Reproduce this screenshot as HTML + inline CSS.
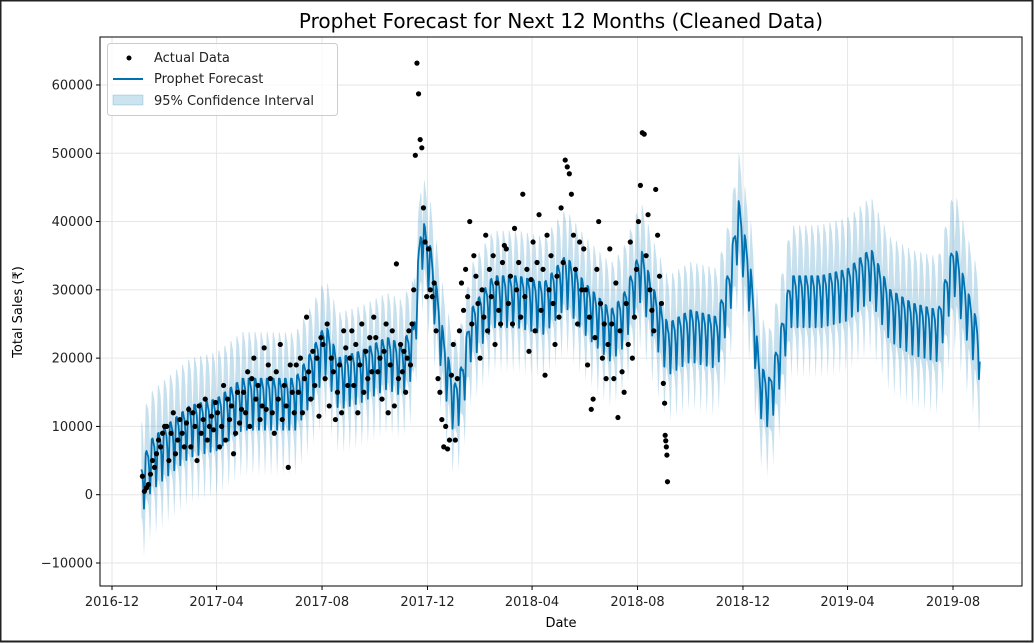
<!DOCTYPE html>
<html><head><meta charset="utf-8">
<style>
html,body{margin:0;padding:0;background:#fff;}
body{width:1034px;height:643px;overflow:hidden;}
svg{display:block;font-family:"DejaVu Sans","Liberation Sans",sans-serif;}
</style></head>
<body>
<svg id="chart" width="1034" height="643" viewBox="0 0 1034 643">
<rect x="0" y="0" width="1034" height="643" fill="#fff"/>
<g id="grid"></g>
<g id="band"></g>
<g id="line"></g>
<g id="pts"></g>
<g id="axes"></g>
<text x="561" y="28" font-size="20" text-anchor="middle" fill="#000">Prophet Forecast for Next 12 Months (Cleaned Data)</text>
<text x="561" y="627" font-size="13" text-anchor="middle" fill="#000">Date</text>
<text x="22" y="312" font-size="13" text-anchor="middle" fill="#000" transform="rotate(-90 22 312)">Total Sales (₹)</text>
<g>
<rect x="107.5" y="43.5" width="230" height="72" rx="3" fill="#fff" fill-opacity="0.8" stroke="#ccc"/>
<circle cx="129" cy="58" r="2.5" fill="#000"/>
<text x="154" y="62" font-size="13" fill="#222">Actual Data</text>
<line x1="113" y1="79" x2="143" y2="79" stroke="#0072B2" stroke-width="2"/>
<text x="154" y="83" font-size="13" fill="#222">Prophet Forecast</text>
<rect x="113" y="95" width="30" height="10" fill="#0072B2" fill-opacity="0.2" stroke="#0072B2" stroke-opacity="0.2"/>
<text x="154" y="105" font-size="13" fill="#222">95% Confidence Interval</text>
</g>
<rect x="0.5" y="0.5" width="1032" height="641" fill="none" stroke="#222" stroke-width="2"/>
</svg>
<script>
const yTicks = [-10000,0,10000,20000,30000,40000,50000,60000];
const xTickLabels = ["2016-12","2017-04","2017-08","2017-12","2018-04","2018-08","2018-12","2019-04","2019-08"];
const trendDates = ["2017-01-04","2017-01-15","2017-02-01","2017-03-01","2017-04-01","2017-05-01","2017-06-01","2017-07-01","2017-07-20","2017-08-05","2017-08-20","2017-09-15","2017-10-15","2017-11-01","2017-11-15","2017-11-24","2017-12-05","2017-12-20","2018-01-01","2018-01-10","2018-01-20","2018-02-15","2018-03-15","2018-04-15","2018-05-10","2018-06-01","2018-07-01","2018-07-15","2018-08-05","2018-08-20","2018-09-05","2018-10-01","2018-11-01","2018-11-15","2018-11-26","2018-12-10","2018-12-20","2019-01-01","2019-01-12","2019-01-25","2019-03-01","2019-04-01","2019-04-28","2019-05-20","2019-06-15","2019-07-15","2019-08-02","2019-08-15","2019-09-01"];
const trendValues = [1500,5000,7000,10000,11000,14000,14000,14000,18000,22000,17000,18000,20000,19000,22000,38000,33000,20000,13000,16000,24000,29000,29000,28000,32000,28000,24000,26000,33000,27000,22000,24000,23000,30000,40000,30000,16000,14000,20000,29000,29000,30000,33000,27000,25000,24000,34000,28000,21000];
const weeklyEffect = [-1500,3000,3000,2200,1500,-500,-4500]; // Sun..Sat
const intervalHalfWidth = [7000,6500,7000,8000];
const intervalHalfDates = ["2017-01-04","2017-12-01","2018-09-01","2019-09-01"];
const actualMonths = ["2017-01","2017-02","2017-03","2017-04","2017-05","2017-06","2017-07","2017-08","2017-09","2017-10","2017-11","2017-12","2018-01","2018-02","2018-03","2018-04","2018-05","2018-06","2018-07","2018-08","2018-09"];
const actualValues = [
[2.7,0.5,1,1.5,3,5,4,6,8,7,9,10],
[10,5,9,12,6,8,11,9,7,10.5,12.5],
[7,12,10,5,13,9,11,14,8,10,11.5,9.5,13.5],
[12,7,10,16,8,14,11,13,6,9,15,10.5,12.5],
[15,12,18,10,17,20,14,16,11,13,21.5,12.5,19],
[17,12,9,18,14,22,11,16,13,4,19,15,12],
[19,15,20,12,17,26,18,14,21,16,20,11.5,23],
[22,17,25,13,20,18,11,15,19,12,24,21.5,16],
[20,24,16,22,12,19,25,15,21,17,23,18,26],
[23,18,20,14,21,25,12,19,24,13,33.8,17,22],
[18,21,15,20,24,19,25,30,49.7,63.2,58.7,52,50.8,42,37,29],
[36,30,29,31,24,17,15,11,7,10,6.7,8,17.5,22],
[8,17,24,31,27,33,29,40,25,35,32,28,20],
[30,26,38,24,33,29,35,22,31,27,25,34,36.5],
[36,28,32,25,39,30,34,26,44,29,33,21,31.5],
[37,24,34,41,27,33,17.5,38,30,35,28,22,32],
[26,42,34,49,48,47,44,38,33,25,37,30,36],
[30,19,26,12.5,14,23,33,40,28,20,25,17,22,36],
[25,17,31,11.3,24,18,15,28,22,37,20,26,33],
[40,45.3,53,52.8,35,41,30,27,24,44.7,38,32,28,16.3],
[13.4,8.7,7.9,7,5.8,1.9]
];

const NS="http://www.w3.org/2000/svg";
const PL=100, PR=1022, PT=37, PB=586;
const D0=Date.UTC(2016,11,1), DAY=86400000;
function xOf(ms){return 112+(ms-D0)/DAY*(841/973);}
function yOf(v){return 494.7-v*(68.29/10000);}
function parseD(s){const p=s.split("-").map(Number);return Date.UTC(p[0],p[1]-1,p[2]||1);}
function mk(tag,attrs,parent){const e=document.createElementNS(NS,tag);for(const k in attrs)e.setAttribute(k,attrs[k]);parent.appendChild(e);return e;}
function interp(ms,dates,vals){
  const t=dates.map(parseD);
  if(ms<=t[0])return vals[0];
  for(let i=1;i<t.length;i++){if(ms<=t[i]){const f=(ms-t[i-1])/(t[i]-t[i-1]);return vals[i-1]+f*(vals[i]-vals[i-1]);}}
  return vals[vals.length-1];
}
const grid=document.getElementById('grid'), axes=document.getElementById('axes');
yTicks.forEach(v=>{
  const y=yOf(v);
  const g=mk('line',{x1:PL,x2:PR,y1:y,y2:y,stroke:'#e6e6e6','stroke-width':1},grid);
  
  
  const t=mk('line',{x1:PL-4,x2:PL,y1:y,y2:y,stroke:'#000'},axes);
  
  
  const l=mk('text',{x:PL-7,y:y+4.5,'font-size':13,'text-anchor':'end',fill:'#222'},axes);
  l.textContent=(v<0?'\u2212':'')+Math.abs(v);
  
  
});
xTickLabels.forEach(s=>{
  const x=xOf(parseD(s));
  const g=mk('line',{x1:x,x2:x,y1:PT,y2:PB,stroke:'#e6e6e6','stroke-width':1},grid);
  
  
  const t=mk('line',{x1:x,x2:x,y1:PB,y2:PB+4,stroke:'#000'},axes);
  
  
  const l=mk('text',{x:x,y:PB+20,'font-size':13,'text-anchor':'middle',fill:'#222'},axes);
  l.textContent=s;
  
  
});
const sp=mk('rect',{x:PL,y:PT,width:PR-PL,height:PB-PT,fill:'none',stroke:'#000','stroke-width':1},axes);



// forecast
const start=parseD(trendDates[0]), end=parseD(trendDates[trendDates.length-1]);
let line=[], up=[], lo=[];
for(let ms=start;ms<=end;ms+=DAY){
  const d=new Date(ms).getUTCDay();
  const v=interp(ms,trendDates,trendValues)+weeklyEffect[d];
  const hw=interp(ms,intervalHalfDates,intervalHalfWidth);
  const x=xOf(ms).toFixed(2);
  line.push(x+','+yOf(v).toFixed(2));
  up.push(x+','+yOf(v+hw).toFixed(2));
  lo.unshift(x+','+yOf(v-hw).toFixed(2));
}
const bp=mk('polygon',{points:up.concat(lo).join(' '),fill:'#0072B2','fill-opacity':0.22,stroke:'none'},document.getElementById('band'));


const lp=mk('polyline',{points:line.join(' '),fill:'none',stroke:'#0072B2','stroke-width':1.8,'stroke-linejoin':'round'},document.getElementById('line'));



// actual points
const pts=document.getElementById('pts');
actualMonths.forEach((m,i)=>{
  const ms0=parseD(m);
  const p=m.split("-").map(Number);
  const ms1=Date.UTC(p[0],p[1],1);
  const vals=actualValues[i];
  const span=(i===0)?(ms1-ms0-3*DAY):(i===actualMonths.length-1?4*DAY:(ms1-ms0));
  const off=(i===0)?3*DAY:0;
  vals.forEach((v,j)=>{
    const ms=ms0+off+span*(j+0.5)/vals.length;
    const c=mk('circle',{cx:xOf(ms).toFixed(2),cy:yOf(v*1000).toFixed(2),r:2.6,fill:'#000'},pts);
    
    
  });
});
</script>
</body></html>
